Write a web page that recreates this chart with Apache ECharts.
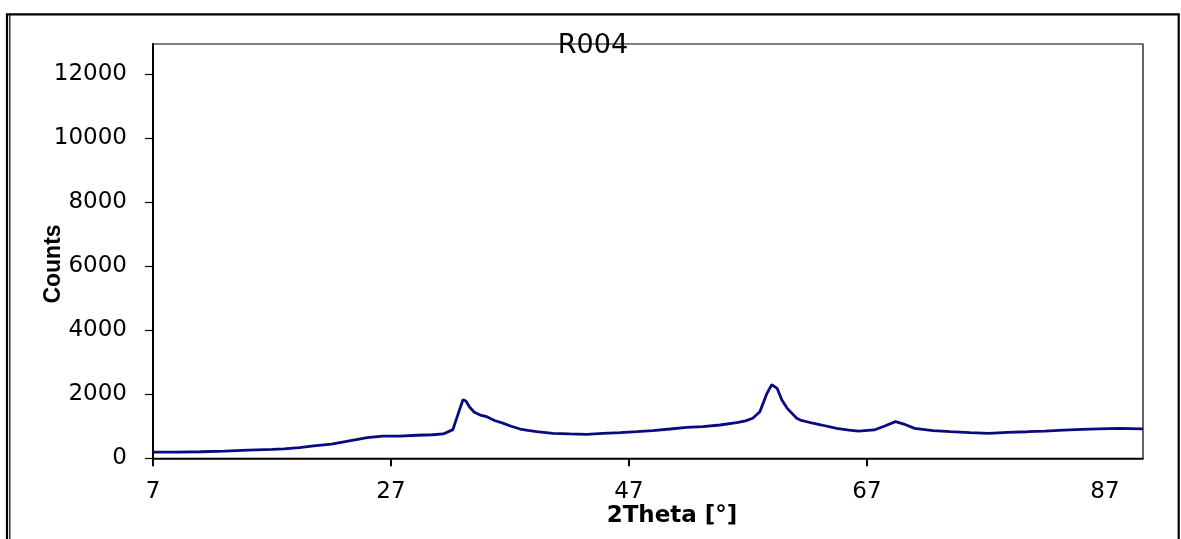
<!DOCTYPE html>
<html>
<head>
<meta charset="utf-8">
<script src="https://cdn.jsdelivr.net/npm/echarts@6/dist/echarts.min.js"></script>
<style>html,body{margin:0;padding:0;background:#fff;}#c{width:1181px;height:539px;}</style>
</head>
<body>
<div id="c"></div>
<script>
var titleText = 'R004';
var xName = '2Theta [°]';
var yName = 'Counts';
var xTicks = [7, 27, 47, 67, 87];
var xTickMarks = [7, 27, 47, 67];
var yTicks = [0, 2000, 4000, 6000, 8000, 10000, 12000];
var twoTheta = [7, 9, 11, 13, 15, 17, 18, 19.3, 20.5, 22, 23.5, 25, 26.3, 27.7, 29.2, 30.5, 31.4, 32.2, 32.7, 33.05, 33.3, 33.6, 34, 34.5, 35.05, 35.7, 36.4, 37.1, 37.85, 38.5, 39.25, 40.6, 42, 43.45, 44.8, 46.25, 47.65, 49, 50.45, 51.85, 53.2, 54.65, 56.05, 56.8, 57.4, 58, 58.6, 59, 59.45, 59.85, 60.3, 61.1, 61.4, 62.45, 63.2, 64.45, 65.5, 66.3, 67.6, 68.5, 69.4, 70.1, 71, 72.55, 74, 75.65, 77.25, 78.8, 80.5, 81.95, 83.5, 85.1, 86.5, 88.2, 90.2];
var counts = [190, 195, 205, 225, 255, 280, 295, 335, 385, 445, 545, 645, 690, 690, 720, 735, 760, 895, 1450, 1830, 1790, 1600, 1440, 1350, 1300, 1180, 1100, 1000, 915, 870, 830, 780, 760, 750, 780, 800, 830, 865, 915, 965, 990, 1040, 1115, 1170, 1250, 1455, 2030, 2300, 2185, 1820, 1560, 1250, 1195, 1095, 1040, 935, 880, 850, 885, 1010, 1145, 1070, 935, 865, 830, 800, 780, 810, 830, 850, 880, 905, 920, 935, 920];

var data = twoTheta.map(function (x, i) { return [x, counts[i]]; });
var chart = echarts.init(document.getElementById('c'), null, {renderer: 'canvas'});
var plain = function (v) { return String(v); };
var labelFont = {color: '#000', fontFamily: 'DejaVu Sans', fontSize: 23, formatter: plain};
chart.setOption({
  animation: false,
  backgroundColor: '#fff',
  grid: {left: 153, top: 44, right: 38, bottom: 80.7, show: true, borderColor: '#000', borderWidth: 1.2, backgroundColor: 'transparent'},
  xAxis: {
    type: 'value', min: 7, max: 90.2,
    axisLine: {show: true, onZero: false, lineStyle: {color: '#000', width: 1.5}},
    axisTick: {show: true, inside: false, length: 8, customValues: xTickMarks, lineStyle: {color: '#000', width: 2}},
    axisLabel: Object.assign({margin: 22, customValues: xTicks}, labelFont),
    splitLine: {show: false}
  },
  yAxis: {
    type: 'value', min: 0, max: 12940,
    axisLine: {show: true, lineStyle: {color: '#000', width: 2}},
    axisTick: {show: true, inside: false, length: 8, customValues: yTicks, lineStyle: {color: '#000', width: 1.2}},
    axisLabel: Object.assign({margin: 26, customValues: yTicks}, labelFont),
    splitLine: {show: false}
  },
  series: [{
    type: 'line', data: data, showSymbol: false, smooth: false,
    lineStyle: {color: '#0a0a80', width: 2.8}, itemStyle: {color: '#0a0a80'}
  }],
  graphic: [
    {type: 'rect', shape: {x: 7, y: 14.3, width: 1171.7, height: 600}, style: {fill: null, stroke: '#000', lineWidth: 2.2}, silent: true, z: 100},
    {type: 'line', shape: {x1: 9.8, y1: 14, x2: 9.8, y2: 539}, style: {stroke: '#000', lineWidth: 1.2}, silent: true, z: 100},
    {type: 'text', x: 593, y: 46, z: 100, style: {text: titleText, textAlign: 'center', textVerticalAlign: 'middle', font: '27px "DejaVu Sans"', fill: '#000'}},
    {type: 'text', x: 672, y: 516, z: 100, style: {text: xName, textAlign: 'center', textVerticalAlign: 'middle', font: 'bold 23px "DejaVu Sans"', fill: '#000'}},
    {type: 'text', x: 54, y: 264, rotation: Math.PI / 2, z: 100, style: {text: yName, textAlign: 'center', textVerticalAlign: 'middle', font: 'bold 23px "Liberation Sans"', fill: '#000'}}
  ]
});
</script>
</body>
</html>
